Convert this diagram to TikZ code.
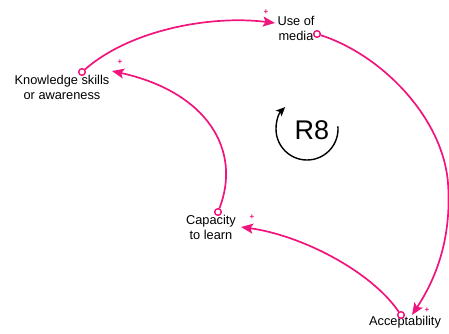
\documentclass[tikz,border=0pt]{standalone}
\usepackage{fontspec}
\setmainfont{Liberation Sans}
\usetikzlibrary{arrows.meta}
\definecolor{linkpink}{RGB}{240,20,125}
\tikzset{
  x=1pt, y=1pt,
  label/.style={align=center, inner sep=0pt, font=\fontsize{12.8}{15}\selectfont, text=black},
  dot/.style={circle, draw=linkpink, fill=white, line width=1.3pt, inner sep=0pt, minimum size=6.5pt},
  link/.style={draw=linkpink, line width=1.7pt, -{Stealth[length=12pt,width=10pt,inset=2.5pt]}},
  polarity/.style={text=linkpink, inner sep=0pt, font=\fontsize{8}{8}\selectfont\bfseries},
  loopmark/.style={draw=black, line width=1.4pt, -{Stealth[length=9pt,width=8pt,inset=2pt]}}
}
\begin{document}
\begin{tikzpicture}
\useasboundingbox (0,0) rectangle (449,333);

% variables
\node[label] (media) at (296,305) {Use of\\media};
\node[label] (know) at (62,246) {Knowledge skills\\or awareness};
\node[label] (cap) at (211,106) {Capacity\\to learn};
\node[label] (acc) at (405,10.5) {Acceptability};

% link origins and arrow ends
\node[dot] (mediaout) at (317,299) {};
\node[dot] (knowout) at (82,261) {};
\node[dot] (capout) at (218,121) {};
\node[dot] (accout) at (401,18) {};
\coordinate (mediain) at (275,310);
\coordinate (knowin) at (112,262);
\coordinate (capin) at (241,106);
\coordinate (accin) at (412,18);

% causal links
\draw[link] (knowout) .. controls (130,303) and (210,318) .. (mediain);
\draw[link] (mediaout) .. controls (382,278) and (443,215) .. (448,150)
                       .. controls (452,93) and (435,53) .. (accin);
\draw[link] (accout) .. controls (370,63) and (300,98) .. (capin);
\draw[link] (capout) .. controls (242,183) and (207,241) .. (knowin);

% redraw the hollow origins on top of the lines
\foreach \n in {mediaout,knowout,capout,accout}
  \node[dot] at (\n) {};

% polarities
\node[polarity] at (266,321) {+};
\node[polarity] at (120,271) {+};
\node[polarity] at (252,116) {+};
\node[polarity] at (427,23) {+};

% loop identifier
\node[inner sep=0pt, font=\fontsize{27}{27}\selectfont] (r8) at (312,203) {R8};
\draw[loopmark] ([shift={(5:31)}]307,204) arc[start angle=5, end angle=-225, radius=31];
\end{tikzpicture}
\end{document}
